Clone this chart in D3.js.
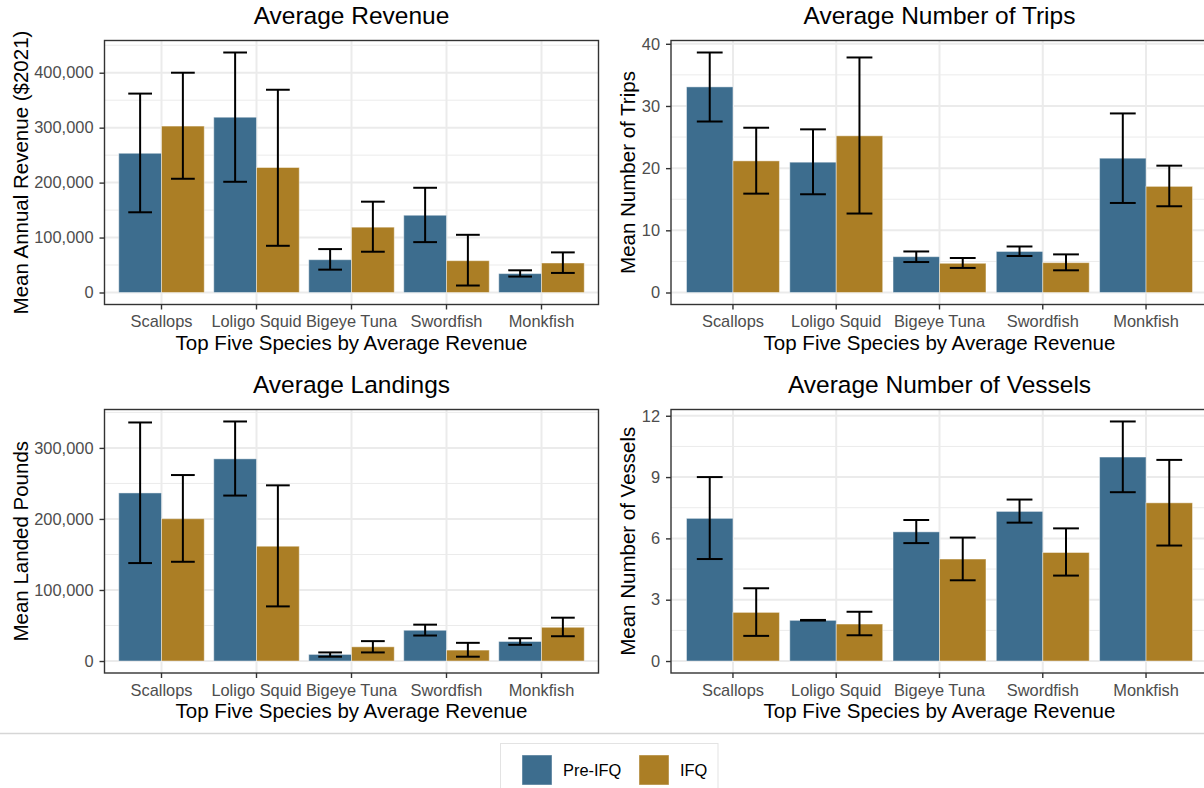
<!DOCTYPE html>
<html>
<head>
<meta charset="utf-8">
<script src="https://cdn.jsdelivr.net/npm/d3@7"></script>
<style>
  html, body { margin: 0; padding: 0; background: #fff; }
  svg { display: block; }
  text { font-family: "Liberation Sans", Arial, sans-serif; }
</style>
</head>
<body>
<svg id="chart" width="1204" height="788"></svg>
<script>
// ---------- data ----------
const categories = ["Scallops", "Loligo Squid", "Bigeye Tuna", "Swordfish", "Monkfish"];
const groups = ["Pre-IFQ", "IFQ"];
const groupColors = ["#3D6D8E", "#AB7E25"];

const revenuePre    = [253400, 319000, 59700, 140600, 34400];
const revenuePreLo  = [146000, 201500, 41600, 91700, 29000];
const revenuePreHi  = [362000, 436800, 79000, 190600, 40400];
const revenueIFQ    = [302900, 227500, 118900, 57900, 53700];
const revenueIFQLo  = [207000, 85000, 74200, 12700, 35600];
const revenueIFQHi  = [400000, 369000, 165300, 105000, 73000];

const tripsPre      = [33.07, 20.96, 5.76, 6.6, 21.6];
const tripsPreLo    = [27.5, 15.8, 4.9, 5.87, 14.4];
const tripsPreHi    = [38.6, 26.24, 6.6, 7.4, 28.8];
const tripsIFQ      = [21.17, 25.2, 4.7, 4.8, 17.07];
const tripsIFQLo    = [15.9, 12.7, 3.95, 3.57, 13.87];
const tripsIFQHi    = [26.5, 37.8, 5.55, 6.13, 20.4];

const landingsPre   = [236600, 284600, 9300, 43300, 27500];
const landingsPreLo = [137900, 232900, 6100, 35900, 22800];
const landingsPreHi = [335800, 337200, 12100, 51200, 32100];
const landingsIFQ   = [200300, 161600, 20000, 15400, 47500];
const landingsIFQLo = [139700, 76900, 12100, 6100, 34900];
const landingsIFQHi = [261800, 247300, 28000, 25600, 61000];

const vesselsPre    = [6.98, 1.99, 6.32, 7.32, 9.98];
const vesselsPreLo  = [4.99, 1.98, 5.77, 6.77, 8.26];
const vesselsPreHi  = [9.0, 2.01, 6.9, 7.9, 11.72];
const vesselsIFQ    = [2.38, 1.81, 4.99, 5.31, 7.74];
const vesselsIFQLo  = [1.23, 1.26, 3.95, 4.18, 5.65];
const vesselsIFQHi  = [3.56, 2.41, 6.04, 6.49, 9.84];

const revenueTicks  = [0, 100000, 200000, 300000, 400000];
const tripsTicks    = [0, 10, 20, 30, 40];
const landingsTicks = [0, 100000, 200000, 300000];
const vesselsTicks  = [0, 3, 6, 9, 12];

const xTitle = "Top Five Species by Average Revenue";

// ---------- layout ----------
const panels = [
  { title: "Average Revenue", yTitle: "Mean Annual Revenue ($2021)",
    pre: [revenuePre, revenuePreLo, revenuePreHi], ifq: [revenueIFQ, revenueIFQLo, revenueIFQHi],
    ticks: revenueTicks, fmt: d3.format(","),
    x0: 104.5, x1: 598.5, y0: 40.5, y1: 304.5, yTitleX: 27.5 },
  { title: "Average Number of Trips", yTitle: "Mean Number of Trips",
    pre: [tripsPre, tripsPreLo, tripsPreHi], ifq: [tripsIFQ, tripsIFQLo, tripsIFQHi],
    ticks: tripsTicks, fmt: d3.format("d"),
    x0: 671, x1: 1208, y0: 40.5, y1: 304.5, yTitleX: 635 },
  { title: "Average Landings", yTitle: "Mean Landed Pounds",
    pre: [landingsPre, landingsPreLo, landingsPreHi], ifq: [landingsIFQ, landingsIFQLo, landingsIFQHi],
    ticks: landingsTicks, fmt: d3.format(","),
    x0: 104.5, x1: 598.5, y0: 409.5, y1: 673, yTitleX: 27.5 },
  { title: "Average Number of Vessels", yTitle: "Mean Number of Vessels",
    pre: [vesselsPre, vesselsPreLo, vesselsPreHi], ifq: [vesselsIFQ, vesselsIFQLo, vesselsIFQHi],
    ticks: vesselsTicks, fmt: d3.format("d"),
    x0: 671, x1: 1208, y0: 409.5, y1: 673, yTitleX: 635 }
];

const svg = d3.select("#chart");
svg.append("rect").attr("width", 1204).attr("height", 788).attr("fill", "#fff");

const grid = "#EBEBEB", dark = "#333333", tickText = "#4D4D4D";

panels.forEach(p => {
  const g = svg.append("g");
  const x = d3.scaleBand().domain(categories).range([p.x0, p.x1])
    .paddingInner(0.1).paddingOuter(0.15);
  const xg = d3.scaleBand().domain(groups).range([0, x.bandwidth()]);
  const step = x.step();

  const hiMax = d3.max([...p.pre[2], ...p.ifq[2]]);
  const lo = 0;
  const span = hiMax - lo;
  const y = d3.scaleLinear().domain([lo - 0.05 * span, hiMax + 0.05 * span]).range([p.y1, p.y0]);

  // minor gridlines
  const tStep = p.ticks[1] - p.ticks[0];
  const minor = [];
  for (let v = p.ticks[0] - tStep / 2; v <= y.domain()[1]; v += tStep) {
    if (v >= y.domain()[0]) minor.push(v);
  }
  g.selectAll(".minor").data(minor).join("line")
    .attr("x1", p.x0).attr("x2", p.x1)
    .attr("y1", d => y(d)).attr("y2", d => y(d))
    .attr("stroke", grid).attr("stroke-width", 1);
  // major horizontal gridlines
  g.selectAll(".majorY").data(p.ticks).join("line")
    .attr("x1", p.x0).attr("x2", p.x1)
    .attr("y1", d => y(d)).attr("y2", d => y(d))
    .attr("stroke", grid).attr("stroke-width", 2);
  // vertical gridlines
  g.selectAll(".majorX").data(categories).join("line")
    .attr("x1", d => x(d) + x.bandwidth() / 2).attr("x2", d => x(d) + x.bandwidth() / 2)
    .attr("y1", p.y0).attr("y2", p.y1)
    .attr("stroke", grid).attr("stroke-width", 2);

  // bars
  const series = [p.pre, p.ifq];
  series.forEach((s, gi) => {
    const grp = groups[gi];
    g.append("g").selectAll("rect").data(categories).join("rect")
      .attr("x", d => x(d) + xg(grp))
      .attr("width", xg.bandwidth())
      .attr("y", (d, i) => y(s[0][i]))
      .attr("height", (d, i) => y(0) - y(s[0][i]))
      .attr("fill", groupColors[gi])
      .attr("stroke", "rgba(255,255,255,0.45)")
      .attr("stroke-width", 1);
  });
  // error bars
  series.forEach((s, gi) => {
    const grp = groups[gi];
    const cx = d => x(d) + xg(grp) + xg.bandwidth() / 2;
    const cap = 0.25 * step;
    const eg = g.append("g").attr("stroke", "#000").attr("stroke-width", 2).attr("fill", "none");
    categories.forEach((c, i) => {
      const xc = cx(c);
      eg.append("line").attr("x1", xc).attr("x2", xc).attr("y1", y(s[1][i])).attr("y2", y(s[2][i]));
      eg.append("line").attr("x1", xc - cap / 2).attr("x2", xc + cap / 2).attr("y1", y(s[1][i])).attr("y2", y(s[1][i]));
      eg.append("line").attr("x1", xc - cap / 2).attr("x2", xc + cap / 2).attr("y1", y(s[2][i])).attr("y2", y(s[2][i]));
    });
  });

  // panel border
  g.append("rect").attr("x", p.x0).attr("y", p.y0)
    .attr("width", p.x1 - p.x0).attr("height", p.y1 - p.y0)
    .attr("fill", "none").attr("stroke", dark).attr("stroke-width", 1.4);

  // y axis
  const yAxis = d3.axisLeft(y).tickValues(p.ticks).tickFormat(p.fmt).tickSize(5).tickPadding(6);
  const ya = g.append("g").attr("transform", `translate(${p.x0},0)`).call(yAxis);
  ya.select(".domain").remove();
  ya.selectAll(".tick line").attr("stroke", dark).attr("stroke-width", 1.4);
  ya.selectAll(".tick text").attr("fill", tickText).attr("font-size", "16.4px")
    .attr("font-family", "'Liberation Sans', Arial, sans-serif");

  // x axis
  const xAxis = d3.axisBottom(x).tickSize(5).tickPadding(6);
  const xa = g.append("g").attr("transform", `translate(0,${p.y1})`).call(xAxis);
  xa.select(".domain").remove();
  xa.selectAll(".tick line").attr("stroke", dark).attr("stroke-width", 1.4);
  xa.selectAll(".tick text").attr("fill", tickText).attr("font-size", "16.4px")
    .attr("font-family", "'Liberation Sans', Arial, sans-serif");

  // titles
  const cxPanel = (p.x0 + Math.min(p.x1, 1208)) / 2;
  g.append("text").attr("x", cxPanel).attr("y", p.y0 - 16.5)
    .attr("text-anchor", "middle").attr("font-size", "24.5px").attr("fill", "#000").text(p.title);
  g.append("text").attr("x", cxPanel).attr("y", p.y1 + 45)
    .attr("text-anchor", "middle").attr("font-size", "20.5px").attr("fill", "#000").text(xTitle);
  g.append("text")
    .attr("transform", `translate(${p.yTitleX},${(p.y0 + p.y1) / 2}) rotate(-90)`)
    .attr("text-anchor", "middle").attr("font-size", "20.5px").attr("fill", "#000").text(p.yTitle);
});

// separator line and legend
svg.append("line").attr("x1", 0).attr("x2", 1204).attr("y1", 733.5).attr("y2", 733.5)
  .attr("stroke", "#D6D6D6").attr("stroke-width", 1.5);
svg.append("rect").attr("x", 500.5).attr("y", 743.5).attr("width", 217.5).attr("height", 60)
  .attr("fill", "#fff").attr("stroke", "#E3E3E3").attr("stroke-width", 1);

const legendX = [522, 639];
groups.forEach((gname, i) => {
  svg.append("rect").attr("x", legendX[i]).attr("y", 755).attr("width", 30).attr("height", 30)
    .attr("fill", groupColors[i]).attr("stroke", "rgba(255,255,255,0.45)").attr("stroke-width", 1);
  svg.append("text").attr("x", legendX[i] + 41).attr("y", 776)
    .attr("font-size", "16.4px").attr("fill", "#000").text(gname);
});
</script>
</body>
</html>
